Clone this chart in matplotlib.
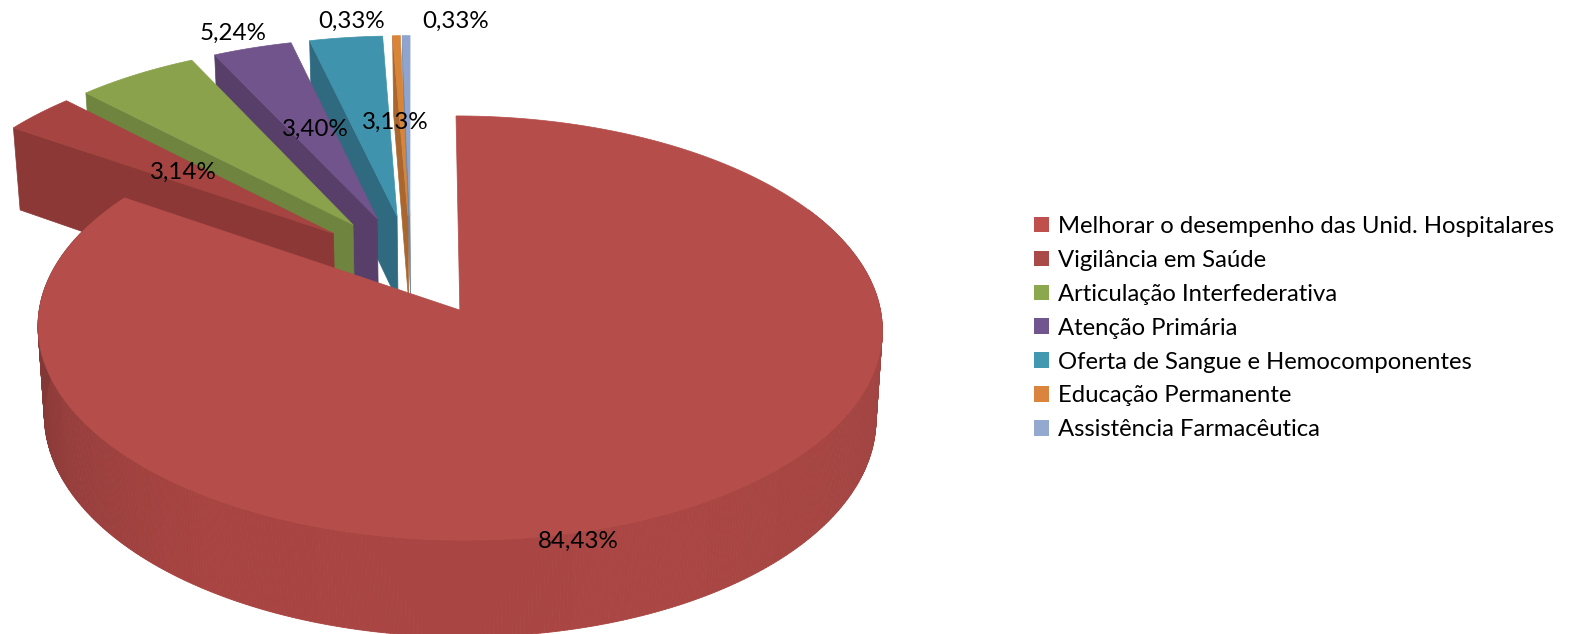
import numpy as np
import matplotlib
matplotlib.use("Agg")
import matplotlib.pyplot as plt
from matplotlib.patches import Patch

categories = ["Melhorar o desempenho das Unid. Hospitalares", "Vigilância em Saúde",
              "Articulação Interfederativa", "Atenção Primária",
              "Oferta de Sangue e Hemocomponentes", "Educação Permanente",
              "Assistência Farmacêutica"]
values = [84.43, 3.14, 5.24, 3.40, 3.13, 0.33, 0.33]
value_labels = ["84,43%", "3,14%", "5,24%", "3,40%", "3,13%", "0,33%", "0,33%"]

top_colors = ["#B54D4A", "#A54441", "#8AA24B", "#71548B", "#4093AC", "#D98538", "#8FA5CF"]
side_colors = ["#A44340", "#8B3836", "#6F853F", "#573F6A", "#2F6A80", "#A9672F", "#7387A8"]
legend_colors = ["#C0504D", "#A94A48", "#8BA84F", "#71558F", "#4298B0", "#DB843D", "#93A9CF"]

# pixel centres of the data labels
label_x = [578, 183, 233, 315, 395, 352, 456]
label_y = [541, 172, 33, 129, 122, 21, 21]

# projection of the pie plane to the picture
CX, CY = 411, 265
RX, RY = 413, 203
PERSP = 0.083
DEPTH = 87
VANISH_X = 461
SQUEEZE = 0.985
EXPLODE = 0.247


def project(X, Y):
    s = 1 / (1 + PERSP * Y)
    return CX + RX * X * s, CY - RY * Y * s


def project_low(X, Y):
    x, y = project(X, Y)
    s = 1 / (1 + PERSP * Y)
    return VANISH_X + (x - VANISH_X) * SQUEEZE, y + DEPTH * s


def shade(theta):
    # wall of the big slice: dark on the left, lighter to the front and right
    stops = [90, 150, 215, 245, 270, 304]
    r = np.interp(theta, stops, [160, 170, 168, 150, 130, 124])
    g = np.interp(theta, stops, [68, 70, 68, 62, 56, 54])
    b = np.interp(theta, stops, [65, 67, 65, 60, 54, 52])
    return (r / 255, g / 255, b / 255)


plt.rcParams['font.family'] = ['Lato', 'DejaVu Sans']
fig = plt.figure(figsize=(15.78, 6.34), dpi=100)
ax = fig.add_axes([0, 0, 1, 1])
ax.set_xlim(0, 1578)
ax.set_ylim(634, 0)
ax.axis('off')

edges = np.cumsum([0] + values) / sum(values) * 360

# back slices first, the big one last
for i in range(len(values) - 1, -1, -1):
    a0, a1 = edges[i], edges[i + 1]
    mid = np.radians((a0 + a1) / 2)
    ox, oy = EXPLODE * np.sin(mid), EXPLODE * np.cos(mid)
    arc = np.radians(np.linspace(a0, a1, max(int(a1 - a0) * 2, 6)))
    X = ox + np.sin(arc)
    Y = oy + np.cos(arc)

    if i == 0:
        for k in range(len(arc) - 1):
            deg = np.degrees(arc[k])
            if deg < 60:
                continue
            tx, ty = project(X[k:k + 2], Y[k:k + 2])
            bx, by = project_low(X[k:k + 2], Y[k:k + 2])
            c = shade(deg)
            ax.fill(np.r_[tx, bx[::-1]], np.r_[ty, by[::-1]], color=c, lw=0.6)
    else:
        # radial wall on the left of the slice
        rx = np.array([X[0], ox])
        ry = np.array([Y[0], oy])
        tx, ty = project(rx, ry)
        bx, by = project_low(rx, ry)
        ax.fill(np.r_[tx, bx[::-1]], np.r_[ty, by[::-1]], color=side_colors[i], lw=0.5)

    px, py = project(np.r_[ox, X], np.r_[oy, Y])
    ax.fill(px, py, color=top_colors[i], lw=0.5)

for x, y, t in zip(label_x, label_y, value_labels):
    ax.text(x, y, t, ha='center', va='center', fontsize=17.4, color='black')

handles = [Patch(facecolor=c, edgecolor='none') for c in legend_colors]
ax.legend(handles, categories, loc='upper left', bbox_to_anchor=(1034, 216),
          bbox_transform=ax.transData, frameon=False, fontsize=17.2, borderpad=0,
          borderaxespad=0, handlelength=0.64, handleheight=0.64, handletextpad=0.35,
          labelspacing=0.54)

fig.savefig("out.png", dpi=100)
